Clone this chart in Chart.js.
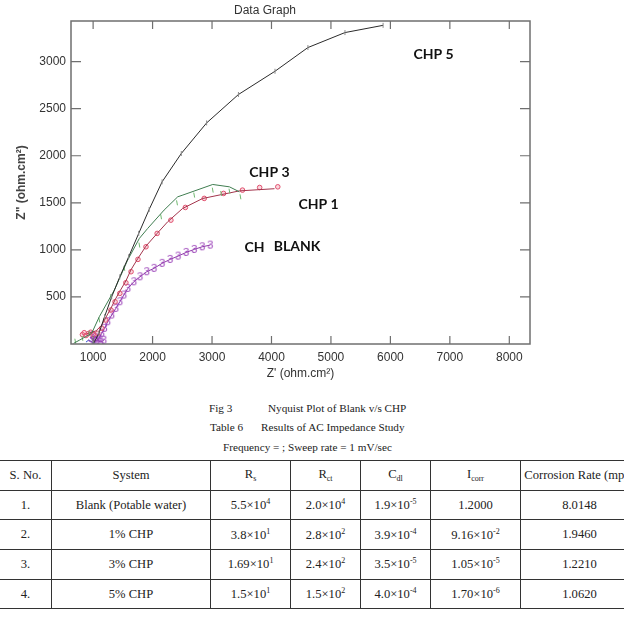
<!DOCTYPE html>
<html>
<head>
<meta charset="utf-8">
<title>Nyquist Plot of Blank v/s CHP</title>
<script src="https://cdn.jsdelivr.net/npm/chart.js@4.4.1/dist/chart.umd.min.js"></script>
<style>
	body { margin: 0; width: 624px; height: 637px; overflow: hidden; background: #fff; position: relative; font-family: 'Liberation Serif', 'Times New Roman', serif; color: #222; }
	#chart-box { position: absolute; left: 0; top: 0; width: 535px; height: 385px; }
	.cap { position: absolute; font-size: 11.2px; line-height: 14px; white-space: nowrap; }
	table { position: absolute; left: -1px; top: 460px; border-collapse: collapse; font-size: 12.6px; table-layout: fixed; width: 639px; }
	td, th { border: 1.5px solid #333; text-align: center; padding: 0; font-weight: normal; white-space: nowrap; }
	tr { height: 29.7px; }
	sup, sub { font-size: 8px; }
	sub { vertical-align: -3px; }
	sup { vertical-align: 5px; }
</style>
</head>
<body>
<div id="chart-box"><canvas id="nyquistChart"></canvas></div>

<span class="cap" style="left:209px; top:401px;">Fig 3</span>
<span class="cap" style="left:268px; top:401px;">Nyquist Plot of Blank v/s CHP</span>
<span class="cap" style="left:210px; top:420px;">Table 6</span>
<span class="cap" style="left:261px; top:420px;">Results of AC Impedance Study</span>
<span class="cap" style="left:223px; top:440px;">Frequency = ; Sweep rate = 1 mV/sec</span>

<table>
	<colgroup>
		<col style="width:52px"><col style="width:159px"><col style="width:80px"><col style="width:70px"><col style="width:70px"><col style="width:90px"><col style="width:118px">
	</colgroup>
	<tr><th>S. No.</th><th>System</th><th>R<sub>s</sub></th><th>R<sub>ct</sub></th><th>C<sub>dl</sub></th><th>I<sub>corr</sub></th><th>Corrosion Rate (mpy)</th></tr>
	<tr><td>1.</td><td>Blank (Potable water)</td><td>5.5×10<sup>4</sup></td><td>2.0×10<sup>4</sup></td><td>1.9×10<sup>-5</sup></td><td>1.2000</td><td>8.0148</td></tr>
	<tr><td>2.</td><td>1% CHP</td><td>3.8×10<sup>1</sup></td><td>2.8×10<sup>2</sup></td><td>3.9×10<sup>-4</sup></td><td>9.16×10<sup>-2</sup></td><td>1.9460</td></tr>
	<tr><td>3.</td><td>3% CHP</td><td>1.69×10<sup>1</sup></td><td>2.4×10<sup>2</sup></td><td>3.5×10<sup>-5</sup></td><td>1.05×10<sup>-5</sup></td><td>1.2210</td></tr>
	<tr><td>4.</td><td>5% CHP</td><td>1.5×10<sup>1</sup></td><td>1.5×10<sup>2</sup></td><td>4.0×10<sup>-4</sup></td><td>1.70×10<sup>-6</sup></td><td>1.0620</td></tr>
</table>

<script>
const xTickValues = [1000, 2000, 3000, 4000, 5000, 6000, 7000, 8000];
const yTickValues = [500, 1000, 1500, 2000, 2500, 3000];

const chp5Re = [1010, 1098, 1192, 1313, 1449, 1598, 1767, 1943, 2160, 2483, 2909, 3444, 4059, 4613, 5236, 5877];
const chp5Im = [10, 114, 290, 502, 714, 927, 1175, 1430, 1723, 2024, 2349, 2651, 2898, 3150, 3309, 3386];

const chp3FitRe = [672, 773, 976, 1104, 1357, 1581, 1778, 1918, 2194, 2423, 2497, 3012, 3293, 3461];
const chp3FitIm = [7, 42, 114, 290, 573, 892, 1122, 1228, 1423, 1564, 1580, 1695, 1670, 1617];
const chp3DataRe = [700, 820, 936, 1104, 1301, 1525, 1778, 2143, 2411, 2700, 3012, 3153, 3293, 3478];
const chp3DataIm = [30, 60, 114, 255, 502, 804, 1051, 1352, 1500, 1582, 1635, 1600, 1624, 1564];

const chp1FitRe = [900, 1050, 1145, 1212, 1300, 1369, 1449, 1551, 1638, 1754, 1889, 2077, 2253, 2505, 2842, 3461, 4051];
const chp1FitIm = [110, 140, 200, 280, 380, 470, 560, 670, 790, 910, 1040, 1175, 1298, 1440, 1546, 1627, 1650];
const chp1DataRe = [820, 850, 880, 920, 960, 1000, 1077, 1145, 1212, 1300, 1369, 1449, 1551, 1638, 1754, 1889, 2077, 2308, 2552, 2869, 3194, 3512, 3801, 4106];
const chp1DataIm = [100, 120, 90, 110, 125, 100, 114, 167, 255, 361, 449, 538, 651, 768, 899, 1033, 1175, 1316, 1451, 1547, 1600, 1635, 1663, 1670];

const blankRe = [1180, 1130, 1080, 1040, 990, 960, 1000, 1050, 1098, 1145, 1192, 1246, 1313, 1382, 1449, 1517, 1584, 1685, 1788, 1902, 2024, 2160, 2295, 2429, 2564, 2700, 2835, 2970];
const blankIm = [40, 20, 40, 70, 90, 60, 40, 25, 61, 114, 167, 237, 308, 379, 449, 520, 591, 661, 714, 768, 804, 857, 899, 934, 973, 1005, 1033, 1051];

const lowFreqRe = [880, 920, 960, 1000, 1040];
const lowFreqIm = [20, 40, 30, 15, 10];

const labelTexts = ['CHP 5', 'CHP 3', 'CHP 1', 'CH', 'BLANK'];
const labelRe = [6727, 3966, 4791, 3714, 4431];
const labelIm = [3078, 1826, 1486, 1030, 1040];

(() => {
	'use strict'

	const chartCtx = document.getElementById('nyquistChart');

	Chart.defaults.font.family = '"Liberation Sans", Arial, sans-serif';
	Chart.defaults.font.size = 12;
	Chart.defaults.color = '#333';

	function toPoints(re, im) {
		return re.map((x, i) => ({ x: x, y: im[i] }));
	}

	function plainTick(value) {
		return String(value);
	}

	function glyphMarker(ch, color, size) {
		const c = document.createElement('canvas');
		c.width = size;
		c.height = size + 2;
		const g = c.getContext('2d');
		g.font = `${size}px "Liberation Sans", Arial, sans-serif`;
		g.fillStyle = color;
		g.textAlign = 'center';
		g.textBaseline = 'middle';
		g.fillText(ch, size / 2, (size + 2) / 2);
		return c;
	}

	// box round the plot, with ticks pointing inward on all four sides
	const frameTicks = {
		id: 'frameTicks',
		afterDatasetsDraw(chart) {
			const { ctx, chartArea: a, scales } = chart;
			ctx.save();
			ctx.strokeStyle = '#6f6f6f';
			ctx.lineWidth = 1.5;
			ctx.strokeRect(a.left, a.top, a.right - a.left, a.bottom - a.top);
			ctx.lineWidth = 1.2;
			ctx.beginPath();
			xTickValues.forEach((v) => {
				const px = scales.x.getPixelForValue(v);
				ctx.moveTo(px, a.bottom); ctx.lineTo(px, a.bottom - 8);
				ctx.moveTo(px, a.top); ctx.lineTo(px, a.top + 8);
			});
			yTickValues.forEach((v) => {
				const py = scales.y.getPixelForValue(v);
				ctx.moveTo(a.left, py); ctx.lineTo(a.left + 10, py);
				ctx.moveTo(a.right, py); ctx.lineTo(a.right - 10, py);
			});
			ctx.stroke();
			ctx.restore();
		}
	};

	const curveLabels = {
		id: 'curveLabels',
		afterDatasetsDraw(chart) {
			const { ctx, scales } = chart;
			ctx.save();
			ctx.font = 'bold 14px Lato, "Open Sans", sans-serif';
			ctx.fillStyle = '#111';
			ctx.textAlign = 'center';
			ctx.textBaseline = 'middle';
			labelTexts.forEach((t, i) => {
				ctx.fillText(t, scales.x.getPixelForValue(labelRe[i]), scales.y.getPixelForValue(labelIm[i]));
			});
			ctx.restore();
		}
	};

	new Chart(chartCtx, {
		type: 'scatter',
		data: {
			datasets: [
				{
					label: 'CHP 5',
					data: toPoints(chp5Re, chp5Im),
					showLine: true,
					borderColor: '#2b2b2b',
					borderWidth: 1,
					pointStyle: 'line',
					rotation: 90,
					pointRadius: 2.5,
					pointBorderColor: '#8a8a8a',
					pointBorderWidth: 1
				},
				{
					label: 'CHP 3 fit',
					data: toPoints(chp3FitRe, chp3FitIm),
					showLine: true,
					borderColor: '#3f7d50',
					borderWidth: 1,
					pointRadius: 0
				},
				{
					label: 'CHP 3',
					data: toPoints(chp3DataRe, chp3DataIm),
					showLine: false,
					pointStyle: 'line',
					rotation: 80,
					pointRadius: 2.5,
					pointBorderColor: '#6fb86f',
					pointBorderWidth: 1
				},
				{
					label: 'CHP 1 fit',
					data: toPoints(chp1FitRe, chp1FitIm),
					showLine: true,
					borderColor: '#a3344c',
					borderWidth: 1,
					pointRadius: 0
				},
				{
					label: 'CHP 1',
					data: toPoints(chp1DataRe, chp1DataIm),
					showLine: false,
					pointStyle: 'circle',
					pointRadius: 2.3,
					pointBorderColor: '#e0506e',
					pointBackgroundColor: 'rgba(240, 140, 160, 0.35)',
					pointBorderWidth: 1
				},
				{
					label: 'Blank',
					data: toPoints(blankRe, blankIm),
					showLine: true,
					borderColor: '#8e3aa8',
					borderWidth: 1,
					pointStyle: glyphMarker('3', '#9a40b8', 11),
					pointRadius: 4
				},
				{
					label: 'Low frequency',
					data: toPoints(lowFreqRe, lowFreqIm),
					showLine: true,
					borderColor: '#3050d0',
					borderWidth: 1,
					pointRadius: 0
				}
			]
		},
		options: {
			responsive: true,
			maintainAspectRatio: false,
			animation: false,
			layout: {
				padding: { left: 0, right: 5, top: 0, bottom: 0 }
			},
			plugins: {
				legend: { display: false },
				tooltip: { enabled: false },
				title: {
					display: true,
					text: 'Data Graph',
					color: '#333',
					font: { size: 12, weight: 'normal' },
					padding: { top: 3, bottom: 3.6 }
				}
			},
			scales: {
				x: {
					type: 'linear',
					min: 628,
					max: 8348,
					afterBuildTicks: function(scale) {
						scale.ticks = xTickValues.map((v) => ({ value: v }));
					},
					afterFit: function(scale) {
						scale.height = 41;
					},
					grid: { display: false, drawTicks: false },
					border: { display: false },
					ticks: { padding: 6, color: '#333', maxRotation: 0, callback: plainTick },
					title: {
						display: true,
						text: 'Z\' (ohm.cm²)',
						color: '#333',
						font: { size: 12 },
						padding: { top: 0, bottom: 4 }
					}
				},
				y: {
					type: 'linear',
					min: 0,
					max: 3432,
					afterBuildTicks: function(scale) {
						scale.ticks = yTickValues.map((v) => ({ value: v }));
					},
					afterFit: function(scale) {
						scale.width = 71;
					},
					grid: { display: false, drawTicks: false },
					border: { display: false },
					ticks: { padding: 5, color: '#333', callback: plainTick },
					title: {
						display: true,
						text: 'Z" (ohm.cm²)',
						color: '#444',
						font: { size: 12, weight: 'bold' },
						padding: { top: 14, bottom: 0 }
					}
				}
			}
		},
		plugins: [frameTicks, curveLabels]
	});
})()
</script>
</body>
</html>
